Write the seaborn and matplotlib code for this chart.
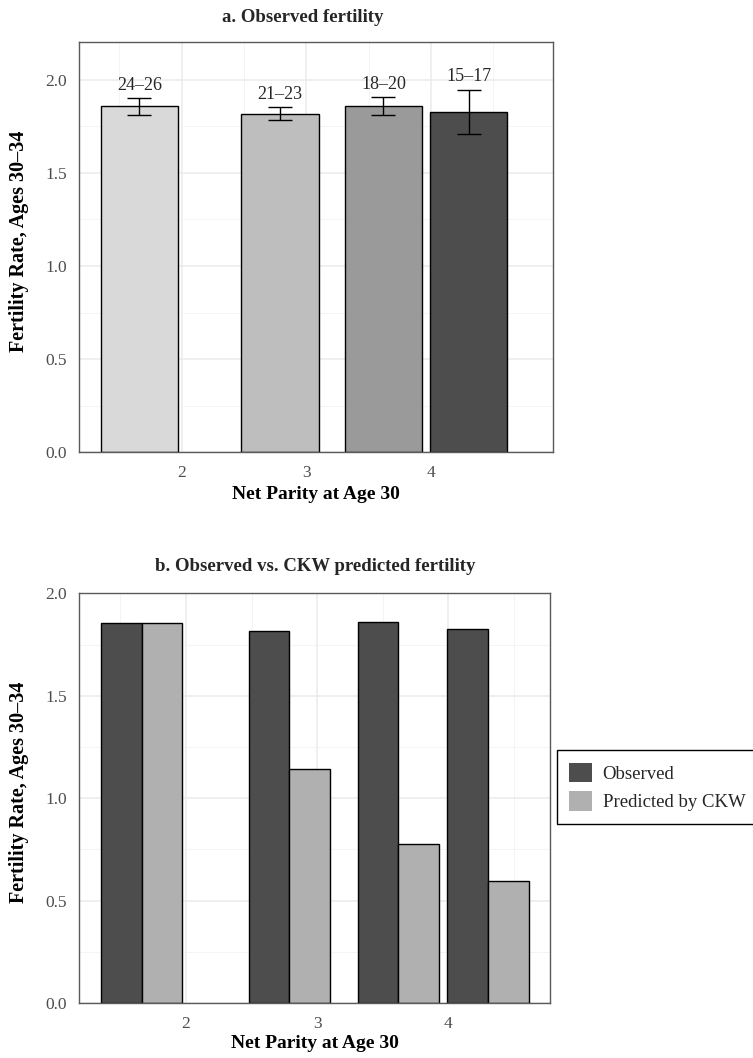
import numpy as np
import pandas as pd
import matplotlib
matplotlib.use("Agg")
import matplotlib.pyplot as plt
from matplotlib.patches import Patch
from matplotlib.ticker import FixedLocator
import seaborn as sns

# data
parity = [1.662, 2.788, 3.618, 4.302]          # mean net parity per cohort group
cohorts = ["24–26", "21–23", "18–20", "15–17"]
observed = [1.856, 1.817, 1.858, 1.828]
obs_lo = [1.812, 1.782, 1.810, 1.710]
obs_hi = [1.901, 1.851, 1.905, 1.946]
predicted = [1.856, 1.140, 0.775, 0.595]
series = ["Observed", "Predicted by CKW"]

cohort_colors = ["#D9D9D9", "#BEBEBE", "#999A99", "#4D4D4D"]
series_colors = ["#4D4D4D", "#B0B0B0"]

sns.set_style("white")
plt.rcParams["font.family"] = ["Liberation Serif", "DejaVu Serif"]

W, H = 753, 1058
fig = plt.figure(figsize=(W / 100, H / 100), dpi=100)
ax_a = fig.add_axes([79.3 / W, 1 - 452.3 / H, 473.4 / W, 410 / H])
ax_b = fig.add_axes([79.3 / W, 1 - 1003 / H, 470.7 / W, 409.7 / H])

bar_w = 0.62
native = np.diff(sorted(parity)).min()

# panel a
df_a = pd.DataFrame({"parity": parity, "rate": observed, "cohort": cohorts})
sns.barplot(data=df_a, x="parity", y="rate", hue="cohort", hue_order=cohorts,
            palette=cohort_colors, native_scale=True, dodge=False,
            width=bar_w / native, errorbar=None, legend=False,
            edgecolor="black", linewidth=1.0, ax=ax_a)
obs = np.array(observed)
ax_a.errorbar(parity, observed, yerr=[obs - np.array(obs_lo), np.array(obs_hi) - obs],
              fmt="none", ecolor="black", elinewidth=1.0, capsize=8.9, capthick=1.0,
              zorder=5)
for x, hi, lab in zip(parity, obs_hi, cohorts):
    ax_a.annotate(lab, (x, hi), xytext=(0, 3), textcoords="offset points",
                  ha="center", va="bottom", fontsize=13, color="#262626")

# panel b
df_b = pd.DataFrame({
    "parity": parity * 2,
    "rate": observed + predicted,
    "series": [series[0]] * 4 + [series[1]] * 4,
})
sns.barplot(data=df_b, x="parity", y="rate", hue="series", hue_order=series,
            palette=series_colors, native_scale=True, dodge=True,
            width=bar_w / native, errorbar=None, legend=False,
            edgecolor="black", linewidth=1.0, ax=ax_b)

ax_a.set_xlim(1.18, 4.975)
ax_a.set_ylim(0, 2.2)
ax_b.set_xlim(1.187, 4.774)
ax_b.set_ylim(0, 2.0)

for ax in (ax_a, ax_b):
    ax.xaxis.set_major_locator(FixedLocator([2, 3, 4]))
    ax.xaxis.set_minor_locator(FixedLocator([1.5, 2.5, 3.5, 4.5]))
    ax.yaxis.set_major_locator(FixedLocator([0, 0.5, 1.0, 1.5, 2.0]))
    ax.yaxis.set_minor_locator(FixedLocator([0.25, 0.75, 1.25, 1.75, 2.25]))
    ax.set_xticklabels(["2", "3", "4"])
    ax.set_yticklabels(["0.0", "0.5", "1.0", "1.5", "2.0"])
    ax.grid(True, which="major", color="#EBEBEB", linewidth=1.1)
    ax.grid(True, which="minor", color="#F2F2F2", linewidth=0.6)
    ax.set_axisbelow(True)
    for sp in ax.spines.values():
        sp.set_color("#5A5A5A")
        sp.set_linewidth(1.0)
    ax.tick_params(which="major", length=4.5, width=0.9, color="#333333",
                   labelsize=12.5, labelcolor="#4D4D4D", pad=4.5)
    ax.tick_params(which="minor", length=0)
    ax.set_xlabel("Net Parity at Age 30", fontsize=14, fontweight="bold", color="black")
    ax.set_ylabel("Fertility Rate, Ages 30–34", fontsize=14.5, fontweight="bold", color="black")
    ax.yaxis.set_label_coords(-0.106, 0.514)

ax_a.xaxis.set_label_coords(0.5, -0.083)
ax_b.xaxis.set_label_coords(0.5, -0.079)

fig.text(302.5 / W, 1 - 21.7 / H, "a. Observed fertility", ha="center",
         va="baseline", fontsize=13.5, fontweight="bold")
fig.text(315 / W, 1 - 571 / H, "b. Observed vs. CKW predicted fertility",
         ha="center", va="baseline", fontsize=13.5, fontweight="bold")

handles = [Patch(facecolor=c, edgecolor="none", label=s)
           for c, s in zip(series_colors, series)]
leg = ax_b.legend(handles=handles, loc="center left",
                  bbox_to_anchor=(557 / W, 1 - 787 / H), bbox_transform=fig.transFigure,
                  borderaxespad=0, frameon=True, fancybox=False, edgecolor="black",
                  framealpha=1, fontsize=13.5, handlelength=1.23, handleheight=1.23,
                  labelspacing=0.45, borderpad=0.65, handletextpad=0.55)
leg.get_frame().set_linewidth(1.0)

fig.savefig("out.png", dpi=100)
